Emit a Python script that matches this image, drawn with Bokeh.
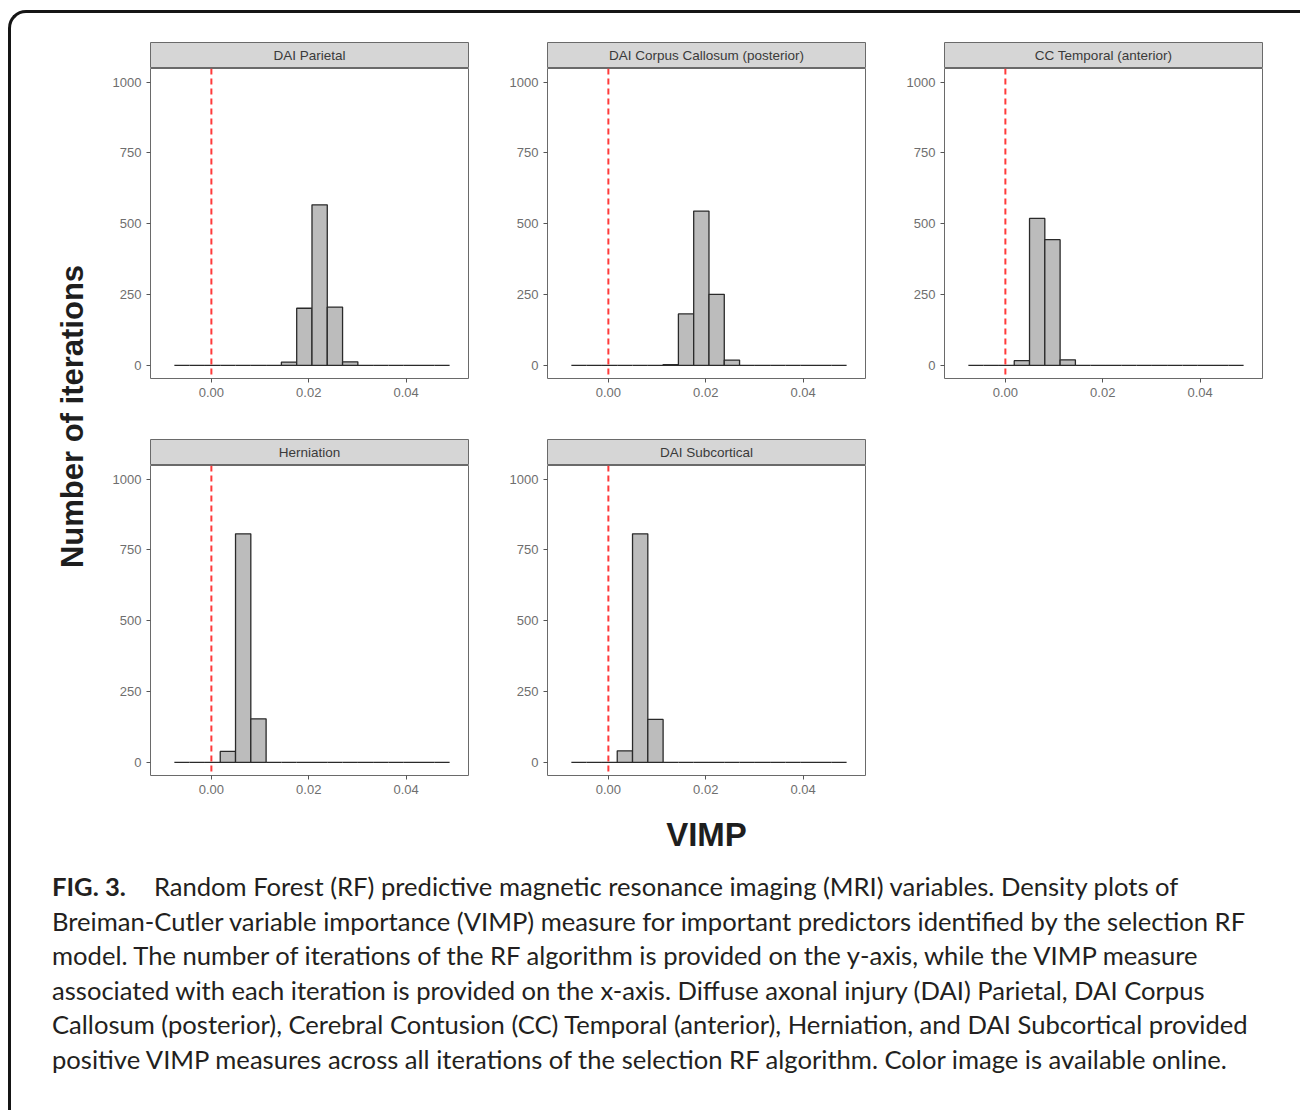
import math
from bokeh.plotting import figure
from bokeh.layouts import column, row
from bokeh.models import Div, Spacer, FixedTicker, Span, NumeralTickFormatter, Range1d
from bokeh.core.properties import value
from bokeh.embed import file_html
from bokeh.resources import INLINE

# ---------------- data ----------------
bin_start = -0.0076
bin_width = 0.00314

panel_titles = ["DAI Parietal", "DAI Corpus Callosum (posterior)", "CC Temporal (anterior)",
                "Herniation", "DAI Subcortical"]
dai_parietal    = [0, 0, 0, 0, 0, 0, 0, 12, 202, 567, 206, 13, 0, 0, 0, 0, 0, 0]
dai_cc_post     = [0, 0, 0, 0, 0, 0, 3, 182, 545, 251, 19, 0, 0, 0, 0, 0, 0, 0]
cc_temporal     = [0, 0, 0, 17, 519, 444, 20, 0, 0, 0, 0, 0, 0, 0, 0, 0, 0, 0]
herniation      = [0, 0, 0, 39, 807, 154, 0, 0, 0, 0, 0, 0, 0, 0, 0, 0, 0, 0]
dai_subcortical = [0, 0, 0, 41, 807, 152, 0, 0, 0, 0, 0, 0, 0, 0, 0, 0, 0, 0]
panel_counts = [dai_parietal, dai_cc_post, cc_temporal, herniation, dai_subcortical]

x_ticks = [0.0, 0.02, 0.04]
y_ticks = [0, 250, 500, 750, 1000]
vline_x = 0.0

y_label = "Number of iterations"
x_label = "VIMP"
caption_lines = [
    '<b>FIG. 3.</b><span style="display:inline-block;width:28px"></span>Random Forest (RF) predictive magnetic resonance imaging (MRI) variables. Density plots of',
    'Breiman-Cutler variable importance (VIMP) measure for important predictors identified by the selection RF',
    'model. The number of iterations of the RF algorithm is provided on the y-axis, while the VIMP measure',
    'associated with each iteration is provided on the x-axis. Diffuse axonal injury (DAI) Parietal, DAI Corpus',
    'Callosum (posterior), Cerebral Contusion (CC) Temporal (anterior), Herniation, and DAI Subcortical provided',
    'positive VIMP measures across all iterations of the selection RF algorithm. Color image is available online.',
]

# ---------------- style / geometry ----------------
FRAME_W = 318
FRAME_H = 310
STRIP_H = 26
AX_FONT = value("Liberation Sans")


def make_panel(title, counts, left_border, bottom_border):
    w = left_border + FRAME_W + 1
    strip = figure(width=w, height=STRIP_H + 1, title=None,
                   x_range=Range1d(0, 1), y_range=Range1d(0, 1),
                   toolbar_location=None, output_backend="svg",
                   x_axis_location=None, y_axis_location=None,
                   min_border_left=left_border, min_border_right=1,
                   min_border_top=1, min_border_bottom=0,
                   background_fill_color="#d6d6d6", outline_line_color="#6a6a6a",
                   border_fill_color="white")
    strip.grid.visible = False
    strip.text(x=[0.5], y=[0.5], text=[title], text_align="center", text_baseline="middle",
               text_font=AX_FONT, text_font_size="13.5px", text_color="#3a3a3a")

    p = figure(width=w, height=FRAME_H + bottom_border, title=None,
               x_range=Range1d(-0.0125, 0.0528), y_range=Range1d(-46, 1048),
               toolbar_location=None, output_backend="svg",
               min_border_left=left_border, min_border_right=1,
               min_border_top=0, min_border_bottom=bottom_border,
               background_fill_color="white", border_fill_color="white",
               outline_line_color="#6a6a6a")
    p.grid.visible = False
    lefts = [bin_start + i * bin_width for i in range(len(counts))]
    rights = [l + bin_width for l in lefts]
    p.quad(left=lefts, right=rights, bottom=0, top=counts,
           fill_color="#bcbcbc", line_color="#2a2a2a", line_width=1.3)
    p.add_layout(Span(location=vline_x, dimension="height", line_color="#ff3b3b",
                      line_dash="6 4", line_width=2))

    p.xaxis.ticker = FixedTicker(ticks=x_ticks)
    p.xaxis.formatter = NumeralTickFormatter(format="0.00")
    p.yaxis.ticker = FixedTicker(ticks=y_ticks)
    for ax in (p.xaxis[0], p.yaxis[0]):
        ax.axis_line_color = None
        ax.major_tick_line_color = "#555555"
        ax.major_tick_in = 0
        ax.major_tick_out = 4
        ax.minor_tick_line_color = None
        ax.major_label_text_color = "#6e6e6e"
        ax.major_label_text_font = "Liberation Sans"
        ax.major_label_text_font_size = "13px"
        ax.major_label_standoff = 5
    return column(strip, p)


panels = []
for i, (t, c) in enumerate(zip(panel_titles, panel_counts)):
    col = i % 3
    rw = i // 3
    lb = 50 if col == 0 else 78
    bb = 60 if rw == 0 else 40
    panels.append(make_panel(t, c, lb, bb))

grid = column(row(panels[0], panels[1], panels[2]), row(panels[3], panels[4]))

GRID_H = (STRIP_H + 1 + FRAME_H + 60) + (STRIP_H + 1 + FRAME_H + 40)
ylab = figure(width=89, height=GRID_H, title=None,
              x_range=Range1d(0, 89), y_range=Range1d(0, GRID_H),
              toolbar_location=None, output_backend="svg",
              x_axis_location=None, y_axis_location=None, min_border=0,
              outline_line_color=None, border_fill_color="white")
ylab.grid.visible = False
ylab.text(x=[61], y=[GRID_H - 375], text=[y_label], angle=math.pi / 2,
          text_align="center", text_baseline="middle",
          text_font=AX_FONT, text_font_style="bold", text_font_size="31px",
          text_color="#1e1e1e")

VW, VH = 1252, 49
vimp = figure(width=VW, height=VH, title=None,
              x_range=Range1d(0, VW), y_range=Range1d(0, VH),
              toolbar_location=None, output_backend="svg",
              x_axis_location=None, y_axis_location=None, min_border=0,
              outline_line_color=None, border_fill_color="white")
vimp.grid.visible = False
vimp.text(x=[695], y=[VH - 19], text=[x_label], text_align="center", text_baseline="middle",
          text_font=AX_FONT, text_font_style="bold", text_font_size="33px",
          text_color="#1e1e1e")

caption_html = ('<div style="font-family:Lato, sans-serif;font-size:25.6px;line-height:34.6px;'
                'color:#231f20;white-space:nowrap;padding-left:36px;">'
                + '<br>'.join(caption_lines) + '</div>')
caption = Div(text=caption_html, width=1285, height=245)

inner = column(Spacer(height=28), row(ylab, grid), vimp, caption,
               styles={"border-left": "3px solid #151515", "border-top": "3px solid #151515",
                       "border-top-left-radius": "18px"})
layout = row(Spacer(width=8), column(Spacer(height=10), inner))

open("out.html", "w").write(file_html(layout, INLINE))
